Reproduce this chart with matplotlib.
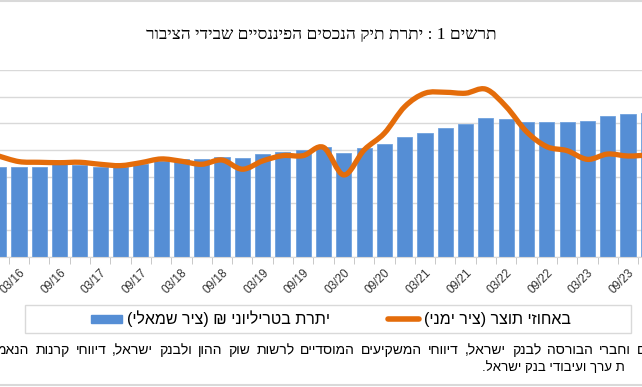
import re
import numpy as np
import matplotlib
matplotlib.use("Agg")
import matplotlib.pyplot as plt
from matplotlib.path import Path
from matplotlib.patches import PathPatch, Rectangle, Patch
from matplotlib.lines import Line2D

# quarterly data, 12/15 .. 12/23 (the chart is cropped on both sides)
quarters = ["12/15", "03/16", "06/16", "09/16", "12/16", "03/17", "06/17", "09/17", "12/17",
            "03/18", "06/18", "09/18", "12/18", "03/19", "06/19", "09/19", "12/19",
            "03/20", "06/20", "09/20", "12/20", "03/21", "06/21", "09/21", "12/21",
            "03/22", "06/22", "09/22", "12/22", "03/23", "06/23", "09/23", "12/23"]
# balance, trillion NIS (left axis)
balance = [3.35, 3.35, 3.37, 3.46, 3.44, 3.36, 3.36, 3.46, 3.59,
           3.65, 3.65, 3.73, 3.71, 3.84, 3.93, 4.00, 4.10,
           3.88, 4.09, 4.23, 4.50, 4.64, 4.84, 4.96, 5.19,
           5.15, 5.04, 5.04, 5.06, 5.10, 5.26, 5.34, 5.38]
# percent of GDP (right axis)
gdp_pct = [275.5, 271.3, 270.8, 270.5, 270.8, 269.3, 268.3, 270.5, 273.3,
           271.6, 269.3, 272.5, 265.6, 271.8, 275.8, 275.8, 282.0,
           261.3, 280.0, 292.6, 312.5, 322.6, 323.3, 322.6, 325.6,
           312.5, 293.8, 282.5, 279.5, 273.0, 277.0, 275.5, 276.3]

title = "תרשים 1 : יתרת תיק הנכסים הפיננסיים שבידי הציבור"
bar_label = "יתרת בטריליוני ₪ (ציר שמאלי)"
line_label = "באחוזי תוצר (ציר ימני)"
source1 = "ם וחברי הבורסה לבנק ישראל, דיווחי המשקיעים המוסדיים לרשות שוק ההון ולבנק ישראל, דיווחי קרנות הנאמ"
source2 = "ת ערך ועיבודי בנק ישראל."

BLUE = "#558ED5"
ORANGE = "#E46C0A"
GRID = "#D9D9D9"
SANS = ["Liberation Sans", "DejaVu Sans"]
SERIF = ["Liberation Serif", "DejaVu Serif"]


def rtl(s):
    # matplotlib has no bidi: put hebrew in visual order
    out = s[::-1].translate(str.maketrans("()", ")("))
    return re.sub(r"\d+", lambda m: m.group(0)[::-1], out)


W, H = 642, 387
fig = plt.figure(figsize=(W / 100, H / 100), dpi=100)

ax = fig.add_axes([0, (H - 256.7) / H, 1, (256.7 - 70) / H])
x = np.arange(len(quarters))
ax.bar(x, balance, width=0.74, color=BLUE, edgecolor="#6FA1DE", linewidth=0.6, zorder=2)
ax.set_ylim(0, 7)
ax.set_yticks(range(8))
ax.yaxis.grid(True, color=GRID, linewidth=1)
ax.set_axisbelow(True)
ax.set_xlim(0.064, 31.69)
for s in ["left", "right", "top"]:
    ax.spines[s].set_visible(False)
ax.spines["bottom"].set_color(GRID)
ax.tick_params(axis="y", length=0, labelleft=False)

# labels every other quarter, tick marks between bars
lab_idx = [i for i, q in enumerate(quarters) if q[:2] in ("03", "09")]
ax.set_xticks(lab_idx)
ax.set_xticklabels([quarters[i] for i in lab_idx], rotation=45, ha="right",
                   rotation_mode="anchor", fontsize=8.5, family=SANS, color="#333333")
ax.tick_params(axis="x", which="major", length=0, pad=7)
ax.set_xticks(x[1:] - 0.5, minor=True)
ax.tick_params(axis="x", which="minor", length=5, color="#BFBFBF")

ax2 = ax.twinx()
ax2.set_ylim(200, 340)
ax2.set_yticks([])
for s in ax2.spines.values():
    s.set_visible(False)

# smoothed line (excel-like bezier through the points)
P = np.column_stack([x, gdp_pct]).astype(float)
n = len(P)
verts, codes = [P[0]], [Path.MOVETO]
for i in range(n - 1):
    a, b, c, d = P[max(i - 1, 0)], P[i], P[i + 1], P[min(i + 2, n - 1)]
    verts += [b + (c - a) / 6, c - (d - b) / 6, c]
    codes += [Path.CURVE4] * 3
ax2.add_patch(PathPatch(Path(verts, codes), fill=False, edgecolor=ORANGE, linewidth=3.8,
                        capstyle="round", joinstyle="round", zorder=3))

fig.text(321 / W, 1 - 35 / H, rtl(title), ha="center", va="center",
         fontsize=12.5, family=SERIF, color="#000000")

# legend
fig.add_artist(Rectangle((25 / W, 1 - 333 / H), 606 / W, 28 / H, transform=fig.transFigure,
                         fill=False, edgecolor=GRID, linewidth=1))
handles = [Patch(facecolor=BLUE, edgecolor=BLUE),
           Line2D([], [], color=ORANGE, linewidth=4, solid_capstyle="round")]
fig.legend(handles, [rtl(bar_label), rtl(line_label)], ncol=2, loc="center",
           bbox_to_anchor=(331 / W, 1 - 319 / H), frameon=False,
           prop={"family": SANS, "size": 11.5}, handlelength=1.95, handleheight=0.4,
           handletextpad=0.3, columnspacing=3.6)

# first source line is justified: spread the words across the width
words = [rtl(w) for w in source1.split(" ")][::-1]
wtexts = [fig.text(0, 1 - 350 / H, w, ha="left", va="center", fontsize=10,
                   family=SANS, color="#000000") for w in words]
fig.canvas.draw()
rend = fig.canvas.get_renderer()
widths = [t.get_window_extent(rend).width for t in wtexts]
left, right = -3, 646
gap = (right - left - sum(widths)) / (len(words) - 1)
pos = left
for t, w in zip(wtexts, widths):
    t.set_x(pos / W)
    pos += w + gap

fig.text(625 / W, 1 - 368 / H, rtl(source2), ha="right", va="center",
         fontsize=9.5, family=SANS, color="#000000")

fig.add_artist(Line2D([0, 1], [1 - 1 / H, 1 - 1 / H], transform=fig.transFigure, color=GRID, lw=1.5))
fig.add_artist(Line2D([0, 1], [1 - 385 / H, 1 - 385 / H], transform=fig.transFigure, color=GRID, lw=1.5))

fig.savefig("out.png", dpi=100, facecolor="white")
